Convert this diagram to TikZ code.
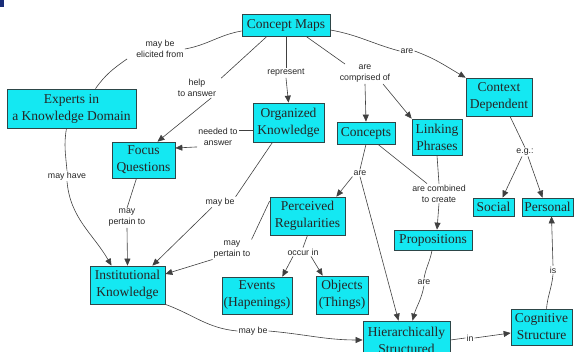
\documentclass[tikz,border=0pt]{standalone}
\usepackage{fontspec}
\setmainfont{Liberation Serif}
\setsansfont{Liberation Sans}
\usetikzlibrary{arrows.meta}
\definecolor{boxfill}{RGB}{20,232,242}
\definecolor{boxline}{RGB}{45,70,72}
\definecolor{navybox}{RGB}{25,45,120}
\tikzset{
  cbox/.style={draw=boxline, fill=boxfill, line width=0.7pt, align=center, inner sep=0.5pt,
    font=\fontsize{13.5}{17}\selectfont, text=black!85},
  lbl/.style={font=\sffamily\fontsize{8.8}{11}\selectfont, align=center, inner sep=1pt, text=black!85},
  conn/.style={draw=black!75, line width=0.6pt},
  arr/.style={conn, -{Triangle[length=7pt,width=6pt]}},
}
\begin{document}
\begin{tikzpicture}[x=1pt,y=-1pt]
\useasboundingbox (0,0) rectangle (574,352);
\clip (0,0) rectangle (574,352);
\fill[navybox] (0,0) rectangle (4,7);

% concept nodes
\node[cbox, minimum width=88pt, minimum height=22pt] (cm) at (286,25) {Concept Maps};
\node[cbox, minimum width=129pt, minimum height=39pt] (exp) at (71.5,108.5) {Experts in\\a Knowledge Domain};
\node[cbox, minimum width=63pt, minimum height=36pt] (fq) at (143.5,160) {Focus\\Questions};
\node[cbox, minimum width=71pt, minimum height=39pt] (ok) at (288.5,122.5) {Organized\\Knowledge};
\node[cbox, minimum width=58pt, minimum height=22pt] (con) at (366,133) {Concepts};
\node[cbox, minimum width=50pt, minimum height=36pt] (lp) at (437,137) {Linking\\Phrases};
\node[cbox, minimum width=66pt, minimum height=38pt] (cd) at (499,97) {Context\\Dependent};
\node[cbox, minimum width=75pt, minimum height=38pt] (pr) at (307.5,216) {Perceived\\Regularities};
\node[cbox, minimum width=41pt, minimum height=18pt] (soc) at (493.5,207) {Social};
\node[cbox, minimum width=51pt, minimum height=18pt] (per) at (547.5,207) {Personal};
\node[cbox, minimum width=78pt, minimum height=20pt] (prop) at (433,240) {Propositions};
\node[cbox, minimum width=75pt, minimum height=38pt] (ik) at (127.5,285) {Institutional\\Knowledge};
\node[cbox, minimum width=70pt, minimum height=37pt] (ev) at (257,295.5) {Events\\(Hapenings)};
\node[cbox, minimum width=52pt, minimum height=38pt] (ob) at (342,295) {Objects\\(Things)};
\node[cbox, minimum width=87pt, minimum height=38pt] (hs) at (406.5,340) {Hierarchically\\Structured};
\node[cbox, minimum width=61pt, minimum height=36pt] (cs) at (541.5,327) {Cognitive\\Structure};

% linking labels
\node[lbl] (lelic) at (160,49) {may be\\elicited from};
\node[lbl] (lhelp) at (197,88) {help\\to answer};
\node[lbl] (lrep) at (286,73) {represent};
\node[lbl] (lcomp) at (365,74) {are\\comprised of};
\node[lbl] (lare1) at (407,51) {are};
\node[lbl] (lneed) at (218,137) {needed to\\answer};
\node[lbl] (lhave) at (67,176) {may have};
\node[lbl] (lfqpt) at (127,218) {may\\pertain to};
\node[lbl] (lokmb) at (220,202) {may be};
\node[lbl] (lare2) at (360,173) {are};
\node[lbl] (lcomb) at (439,193.5) {are combined\\to create};
\node[lbl] (leg) at (525,152) {e.g.:};
\node[lbl] (lprpt) at (232,249.5) {may\\pertain to};
\node[lbl] (locc) at (303,252) {occur in};
\node[lbl] (lare3) at (424,282) {are};
\node[lbl] (lis) at (553,270) {is};
\node[lbl] (lmb2) at (253,331) {may be};
\node[lbl] (lin) at (470,338) {in};

% connectors
\draw[conn] ([yshift=-6pt]cm.west) to[out=190,in=10] (lelic.east);
\draw[conn] ([xshift=-8pt]lelic.south west) to[out=215,in=55] ([xshift=24pt]exp.north);

\draw[conn] ([xshift=-19pt]cm.south) -- ([xshift=4pt]lhelp.north east);
\draw[arr] ([xshift=-6pt]lhelp.south east) -- ([xshift=14pt]fq.north);

\draw[conn] (cm.south) -- (lrep.north);
\draw[arr] (lrep.south) -- (ok.north);

\draw[conn] ([xshift=20pt]cm.south) -- ([xshift=-20pt]lcomp.north);
\draw[arr] (lcomp.south) -- (con.north);
\draw[arr] ([xshift=18pt]lcomp.south) -- (lp.north west);

\draw[conn] ([yshift=-5pt]cm.east) to[out=-10,in=165] (lare1.west);
\draw[arr] (lare1.east) to[out=-20,in=150] (cd.north west);

\draw[conn] ([yshift=-7.5pt]ok.west) -- ([yshift=7pt]lneed.east);
\draw[arr] (lneed.south west) -- ([yshift=12pt]fq.east);

\draw[conn] ([xshift=-5pt]exp.south) to[out=-100,in=95] (lhave.north);
\draw[arr] (lhave.south) to[out=-85,in=120] ([xshift=-16pt]ik.north);

\draw[conn] ([xshift=-7pt]fq.south) -- (lfqpt.north);
\draw[arr] (lfqpt.south) -- (ik.north);

\draw[conn] ([xshift=-16pt]ok.south) -- (lokmb.north east);
\draw[arr] ([xshift=-8pt]lokmb.south) -- ([xshift=-13pt]ik.north east);

\draw[conn] (con.south) -- (lare2.north);
\draw[arr] (lare2.south west) -- ([xshift=-9pt]pr.north east);
\draw[arr] (lare2.south) -- ([xshift=-8pt]hs.north);

\draw[conn] ([xshift=12pt]con.south) -- ([xshift=-12pt]lcomb.north);
\draw[conn] (lp.south) -- (lcomb.north);
\draw[arr] (lcomb.south) -- ([xshift=4pt]prop.north);

\draw[conn] ([xshift=-1pt]prop.south) to[out=-100,in=80] (lare3.north);
\draw[arr] (lare3.south) to[out=-100,in=75] ([xshift=6pt]hs.north);

\draw[conn] ([xshift=11pt]cd.south) -- (leg.north);
\draw[arr] ([xshift=-3pt]leg.south) -- ([xshift=9pt]soc.north);
\draw[arr] ([xshift=3pt]leg.south) -- ([xshift=-5pt]per.north);

\draw[conn] ([yshift=15pt]pr.west) -- (lprpt.north east);
\draw[arr] (lprpt.south west) -- ([yshift=11pt]ik.east);

\draw[conn] (pr.south) -- (locc.north);
\draw[arr] ([xshift=-10pt]locc.south) -- ([xshift=-10pt]ev.north east);
\draw[arr] ([xshift=8pt]locc.south) -- ([xshift=7pt]ob.north west);

\draw[conn] (ik.south east) to[out=-20,in=175] (lmb2.west);
\draw[arr] (lmb2.east) to[out=-5,in=180] (hs.west);

\draw[conn] (hs.east) -- (lin.west);
\draw[arr] (lin.east) -- ([yshift=-6pt]cs.west);

\draw[conn] ([xshift=5pt]cs.north) to[out=85,in=-95] (lis.south);
\draw[arr] (lis.north) -- ([xshift=4pt]per.south);
\end{tikzpicture}
\end{document}
